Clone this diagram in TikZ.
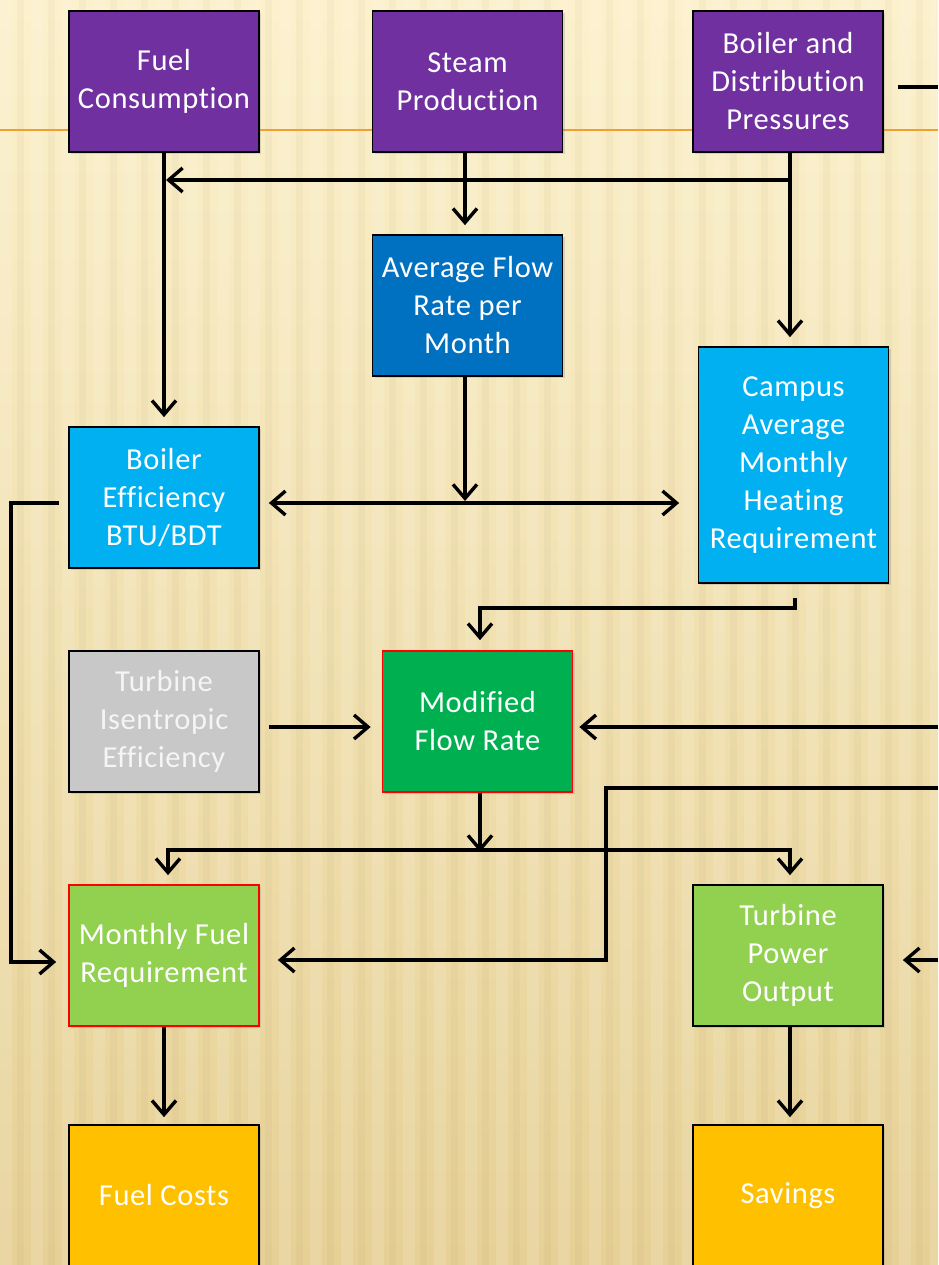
\documentclass[tikz,border=0pt]{standalone}
\usepackage{fontspec}
\setmainfont[Ligatures=NoCommon, LetterSpace=2]{Carlito}
\usetikzlibrary{arrows.meta,shadows}
\definecolor{purp}{HTML}{7030A0}
\definecolor{dblue}{HTML}{0070C0}
\definecolor{lblue}{HTML}{00B0F0}
\definecolor{greyb}{HTML}{C8C8C8}
\definecolor{greenb}{HTML}{00B050}
\definecolor{lgreen}{HTML}{92D050}
\definecolor{goldb}{HTML}{FFC000}
\definecolor{bgtop}{HTML}{FCF1CC}
\definecolor{bgmid}{HTML}{F6E6B4}
\definecolor{bgbot}{HTML}{E6D095}
\definecolor{orangeline}{HTML}{F0A030}
\tikzset{
  box/.style={draw=black, line width=1.7pt, minimum width=190pt, minimum height=141pt,
    text=white, align=center, inner sep=0pt,
    font=\fontsize{30.5}{38}\selectfont,
    drop shadow={shadow xshift=2pt, shadow yshift=-2pt, opacity=0.25}},
  conn/.style={line width=3.4pt, draw=black},
  arr/.style={conn, -{Straight Barb[length=14pt,width=24pt]}},
  darr/.style={conn, {Straight Barb[length=14pt,width=24pt]}-{Straight Barb[length=14pt,width=24pt]}}
}
\begin{document}
\begin{tikzpicture}[x=1pt,y=-1pt]
\useasboundingbox (0,0) rectangle (938,1265);
% background
\shade[top color=bgtop, middle color=bgmid, bottom color=bgbot] (0,0) rectangle (938,1265);
\foreach \x in {0,31,...,930} {
  \fill[white, opacity=0.13] (\x,0) rectangle (\x+12,1265);
  \fill[black!40!bgbot, opacity=0.05] (\x+17,0) rectangle (\x+24,1265);
}
\draw[orangeline, line width=2pt] (0,130) -- (938,130);

% nodes
\node[box, fill=purp] (fc) at (164,81.5) {Fuel\\Consumption};
\node[box, fill=purp] (sp) at (467.5,81.5) {Steam\\Production};
\node[box, fill=purp] (bp) at (788,81.5) {Boiler and\\Distribution\\Pressures};
\node[box, fill=dblue] (af) at (467.5,305.5) {Average Flow\\Rate per\\Month};
\node[box, fill=lblue, minimum height=236pt] (ch) at (793.5,465) {Campus\\Average\\Monthly\\Heating\\Requirement};
\node[box, fill=lblue] (be) at (164,497.5) {Boiler\\Efficiency\\BTU/BDT};
\node[box, fill=greyb, text=white!96!black] (ti) at (164,721.5) {Turbine\\Isentropic\\Efficiency};
\node[box, fill=greenb, draw=red] (mf) at (477.5,721.5) {Modified\\Flow Rate};
\node[box, fill=lgreen, draw=red] (mr) at (164,955.5) {Monthly Fuel\\Requirement};
\node[box, fill=lgreen] (tp) at (788,955.5) {Turbine\\Power\\Output};
\node[box, fill=goldb] (cost) at (164,1195.5) {Fuel Costs};
\node[box, fill=goldb] (sav) at (788,1195.5) {Savings};

% junction / free-end coordinates
\coordinate (j1) at (790,180);
\coordinate (j2) at (465,503);
\coordinate (j3) at (480,850);
\coordinate (stub) at (938,87);
\coordinate (r1) at (938,727);
\coordinate (r2) at (938,788);
\coordinate (r3) at (938,960);

% connectors
\draw[conn] ([xshift=14pt,yshift=-5.5pt]bp.east) -- (stub);
\draw[arr, shorten >=9pt] (fc.south) -- (be.north);
\draw[arr, shorten >=2pt] (j1) -- (fc.south |- j1);
\draw[arr, shorten >=9pt] ([xshift=2pt]bp.south) -- ([xshift=-3.5pt]ch.north);
\draw[arr, shorten >=9pt] ([xshift=-2.5pt]sp.south) -- ([xshift=-2.5pt]af.north);
\draw[arr, shorten >=2pt] ([xshift=-2.5pt]af.south) -- (j2);
\draw[darr, shorten <=9pt, shorten >=18.5pt] ([yshift=-5.5pt]be.east) -- (ch.west |- j2);
\draw[arr, shorten >=12pt] ([xshift=-9pt,yshift=-5.5pt]be.west) -- ++(-48,0) |- ([yshift=-6.5pt]mr.west);
\draw[arr, shorten >=10pt] ([xshift=1.5pt,yshift=-14pt]ch.south) -- ++(0,10) -| ([xshift=2.5pt]mf.north);
\draw[arr, shorten <=9pt, shorten >=11pt] ([yshift=-5.5pt]ti.east) -- ([yshift=-5.5pt]mf.west);
\draw[arr, shorten >=6pt] (r1) -- ([yshift=-5.5pt]mf.east);
\draw[arr, shorten >=-2pt] ([xshift=2.5pt]mf.south) -- (j3);
\draw[darr, shorten <=9pt, shorten >=9pt] ([xshift=4pt]mr.north) |- (j3) -| ([xshift=2pt]tp.north);
\draw[arr, shorten >=18pt] (r2) -- (606,788) |- ([yshift=-4.5pt]mr.east);
\draw[arr, shorten >=19pt] (r3) -- ([yshift=-4.5pt]tp.east);
\draw[arr, shorten >=7pt] (mr.south) -- (cost.north);
\draw[arr, shorten >=7pt] ([xshift=2pt]tp.south) -- ([xshift=2pt]sav.north);
\end{tikzpicture}
\end{document}
